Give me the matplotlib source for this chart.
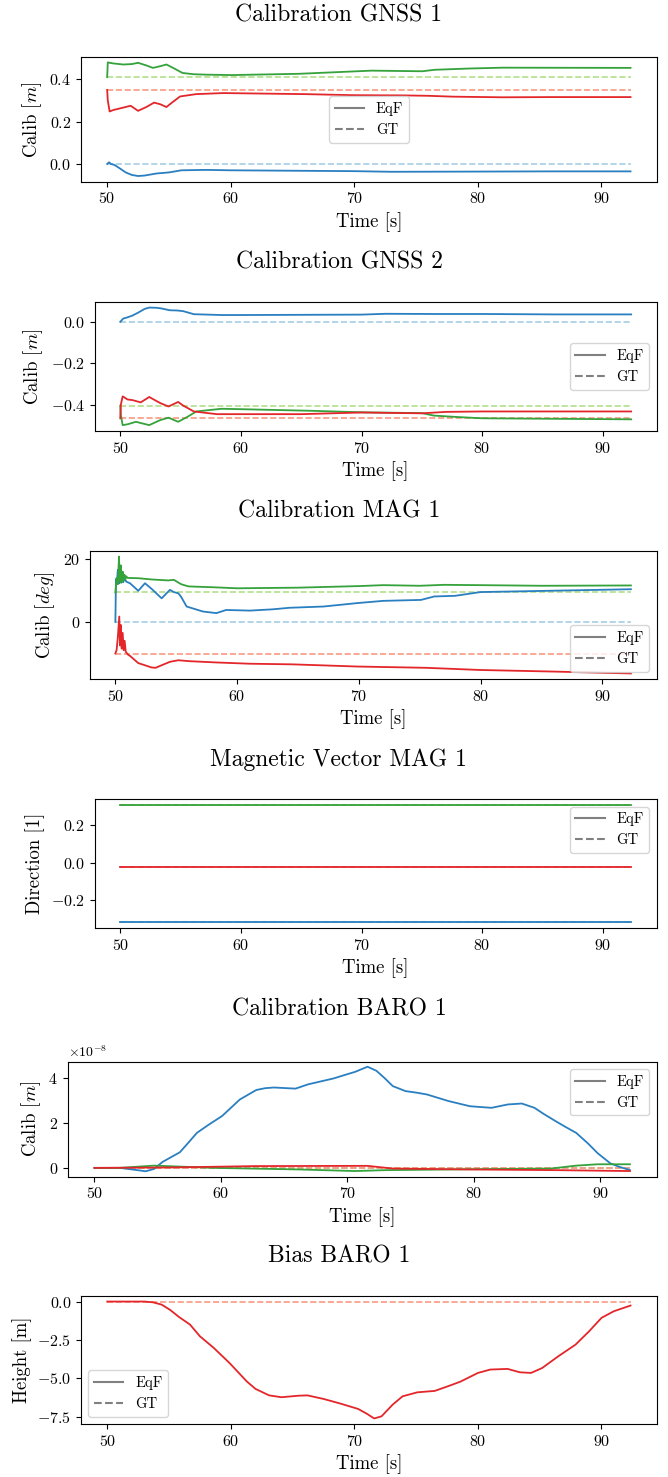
import numpy as np
import matplotlib
matplotlib.use("Agg")
import matplotlib.pyplot as plt
from matplotlib.lines import Line2D

plt.rcParams.update({
    "font.family": "serif",
    "font.serif": ["cmr10"],
    "mathtext.fontset": "cm",
    "axes.formatter.use_mathtext": True,
    "axes.unicode_minus": True,
})

# ---------------- data ----------------
T_START, T_END = 50.0, 92.35

# Panel 1: Calibration GNSS 1 [m]
gnss1_x_t = [50.0, 50.15, 50.3, 50.6, 51.0, 51.5, 52.0, 52.5, 53.0, 53.5, 54.0, 55.0, 56.0, 58.0, 60.0, 65.0, 70.0, 73.0, 80.0, 86.0, 92.35]
gnss1_x_v = [0.0, 0.008, 0.0, -0.005, -0.02, -0.04, -0.052, -0.057, -0.055, -0.05, -0.045, -0.04, -0.03, -0.028, -0.03, -0.032, -0.034, -0.037, -0.036, -0.035, -0.035]
gnss1_y_t = [50.0, 50.05, 50.2, 50.5, 51.3, 52.0, 52.5, 53.2, 53.7, 54.3, 54.8, 55.3, 56.1, 57.0, 58.0, 60.0, 65.5, 71.4, 75.5, 76.5, 79.3, 82.0, 92.35]
gnss1_y_v = [0.41, 0.48, 0.478, 0.475, 0.47, 0.472, 0.478, 0.465, 0.454, 0.462, 0.47, 0.455, 0.43, 0.424, 0.422, 0.42, 0.426, 0.441, 0.438, 0.445, 0.451, 0.455, 0.454]
gnss1_z_t = [50.0, 50.05, 50.2, 50.5, 51.0, 51.9, 52.5, 53.2, 53.8, 54.3, 54.8, 55.2, 55.9, 57.2, 59.4, 62.0, 66.0, 70.0, 74.0, 76.0, 78.0, 82.0, 86.0, 92.35]
gnss1_z_v = [0.35, 0.30, 0.248, 0.255, 0.262, 0.275, 0.251, 0.27, 0.29, 0.282, 0.269, 0.288, 0.319, 0.33, 0.335, 0.333, 0.33, 0.325, 0.324, 0.322, 0.318, 0.315, 0.316, 0.316]
gnss1_gt = [0.0, 0.41, 0.35]

# Panel 2: Calibration GNSS 2 [m]
gnss2_x_t = [50.0, 50.25, 50.5, 51.0, 51.5, 52.0, 52.4, 53.0, 53.4, 54.1, 54.7, 55.2, 56.1, 58.4, 60.0, 65.0, 70.0, 72.0, 76.0, 80.0, 86.0, 92.35]
gnss2_x_v = [0.0, 0.016, 0.02, 0.03, 0.045, 0.062, 0.069, 0.068, 0.065, 0.056, 0.055, 0.052, 0.037, 0.033, 0.033, 0.034, 0.035, 0.039, 0.038, 0.038, 0.036, 0.036]
gnss2_y_t = [50.0, 50.05, 50.2, 50.6, 51.3, 52.4, 53.3, 54.0, 54.8, 55.6, 56.3, 58.4, 60.0, 66.0, 70.0, 75.0, 76.0, 78.0, 80.0, 92.35]
gnss2_y_v = [-0.405, -0.45, -0.499, -0.495, -0.483, -0.499, -0.475, -0.463, -0.483, -0.458, -0.433, -0.420, -0.422, -0.43, -0.437, -0.441, -0.453, -0.46, -0.466, -0.471]
gnss2_z_t = [50.0, 50.05, 50.2, 50.6, 51.0, 51.7, 52.4, 53.3, 54.0, 54.8, 55.2, 56.1, 58.0, 60.0, 65.0, 70.0, 75.0, 77.0, 80.0, 92.35]
gnss2_z_v = [-0.466, -0.40, -0.36, -0.375, -0.378, -0.389, -0.363, -0.392, -0.409, -0.387, -0.404, -0.433, -0.446, -0.446, -0.446, -0.438, -0.442, -0.435, -0.433, -0.433]
gnss2_gt = [0.0, -0.405, -0.466]

# Panel 3: Calibration MAG 1 [deg]
mag_x_t = [50.0, 50.05, 50.12, 50.2, 50.28, 50.36, 50.45, 50.55, 50.65, 50.75, 50.9, 51.2, 51.88, 52.43, 52.98, 53.8, 54.48, 54.8, 55.17, 55.4, 55.85, 57.2, 58.3, 59.1, 61.05, 62.9, 64.3, 67.1, 69.9, 72.0, 75.1, 76.2, 77.9, 80.0, 84.2, 92.35]
mag_x_v = [0.0, 13.6, 12.0, 16.6, 12.2, 15.0, 12.5, 14.5, 12.6, 14.0, 12.8, 12.3, 9.9, 12.3, 10.5, 7.5, 10.2, 9.5, 9.1, 8.0, 4.9, 3.3, 2.8, 3.8, 3.6, 4.0, 4.5, 4.9, 6.0, 6.7, 7.0, 8.1, 8.3, 9.5, 9.8, 10.4]
mag_y_t = [50.0, 50.1, 50.2, 50.3, 50.35, 50.45, 50.5, 50.6, 50.65, 50.75, 50.8, 50.9, 51.0, 51.9, 53.0, 54.35, 54.8, 55.4, 56.0, 58.2, 60.0, 65.0, 70.0, 72.0, 75.0, 77.0, 80.0, 85.0, 92.35]
mag_y_v = [9.36, 14.0, 12.0, 20.8, 13.0, 18.0, 12.5, 16.0, 13.0, 15.0, 13.5, 14.5, 14.0, 13.9, 13.5, 13.2, 13.4, 12.0, 11.3, 11.0, 10.7, 10.9, 11.4, 11.7, 11.5, 11.8, 11.7, 11.5, 11.6]
mag_z_t = [50.0, 50.1, 50.2, 50.32, 50.38, 50.45, 50.52, 50.6, 50.68, 50.76, 50.85, 51.06, 51.2, 51.88, 52.98, 53.3, 54.48, 55.17, 56.1, 58.3, 61.0, 64.5, 69.9, 75.5, 80.0, 86.0, 92.35]
mag_z_v = [-10.0, -9.0, -5.0, 1.7, -7.5, -1.0, -8.5, -3.5, -9.0, -6.0, -9.5, -10.5, -10.8, -13.1, -14.5, -14.6, -12.7, -12.2, -12.5, -12.9, -13.3, -13.5, -14.2, -14.6, -15.3, -15.8, -16.4]
mag_gt = [0.0, 9.36, -10.2]

# Panel 4: Magnetic Vector MAG 1 [1]
magvec_t = [50.0, 92.35]
magvec_x_v = [-0.318, -0.318]
magvec_y_v = [0.307, 0.307]
magvec_z_v = [-0.024, -0.024]
magvec_gt = [-0.318, 0.307, -0.024]

# Panel 5: Calibration BARO 1 [m] (values in units of 1e-8)
baro_x_t = [50.0, 52.0, 53.4, 54.05, 54.7, 55.4, 56.75, 57.4, 58.1, 59.0, 60.1, 61.5, 62.8, 63.5, 64.2, 65.9, 66.9, 68.9, 70.0, 70.6, 71.6, 72.3, 72.9, 73.6, 74.6, 75.5, 76.3, 78.0, 79.7, 81.4, 82.7, 83.8, 84.8, 85.5, 86.5, 87.3, 88.1, 89.0, 89.8, 90.8, 91.5, 92.35]
baro_x_v = [0.0, 0.0, -0.1, -0.15, -0.05, 0.27, 0.69, 1.1, 1.55, 1.9, 2.3, 3.03, 3.45, 3.53, 3.56, 3.51, 3.7, 3.96, 4.15, 4.25, 4.48, 4.3, 4.0, 3.62, 3.4, 3.33, 3.25, 2.96, 2.73, 2.66, 2.81, 2.85, 2.66, 2.4, 2.06, 1.8, 1.55, 1.1, 0.65, 0.2, 0.05, -0.1]
baro_y_t = [50.0, 52.0, 54.7, 59.5, 66.2, 70.6, 73.0, 79.7, 86.1, 88.1, 89.8, 92.35]
baro_y_v = [0.0, 0.0, 0.1, 0.0, -0.07, -0.14, -0.1, -0.06, -0.03, 0.1, 0.16, 0.16]
baro_z_t = [50.0, 56.0, 59.5, 62.8, 71.6, 73.6, 79.7, 86.5, 92.35]
baro_z_v = [0.0, 0.02, 0.05, 0.08, 0.09, -0.03, -0.07, -0.1, -0.14]
baro_gt = [0.0, 0.0, 0.0]
BARO_SCALE = 1e-8

# Panel 6: Bias BARO 1 [m]
bias_t = [50.0, 53.0, 53.7, 54.4, 55.1, 55.8, 56.7, 57.5, 58.6, 59.9, 61.3, 62.0, 63.1, 64.1, 65.5, 66.2, 67.5, 68.9, 70.3, 71.0, 71.6, 72.2, 73.1, 73.9, 75.1, 76.5, 77.6, 78.6, 80.0, 81.0, 82.4, 83.4, 84.3, 85.2, 86.5, 87.9, 89.0, 90.0, 91.0, 92.35]
bias_v = [0.0, 0.0, -0.05, -0.2, -0.55, -1.0, -1.5, -2.26, -3.0, -4.0, -5.2, -5.68, -6.1, -6.22, -6.12, -6.1, -6.33, -6.64, -6.98, -7.29, -7.6, -7.46, -6.7, -6.16, -5.9, -5.81, -5.5, -5.2, -4.64, -4.42, -4.38, -4.6, -4.64, -4.32, -3.56, -2.8, -1.93, -1.06, -0.63, -0.26]
bias_gt = 0.0

# ---------------- style ----------------
EQF_COLORS = ["#2a7fc0", "#35a23c", "#e3262a"]
GT_COLORS = ["#a6cee3", "#b2df8a", "#fb9a82"]

W, H = 668, 1477
fig = plt.figure(figsize=(W / 100, H / 100), dpi=100)

def add_ax(l, t, r, b):
    return fig.add_axes([l / W, 1 - b / H, (r - l) / W, (b - t) / H])

def legend(ax, loc):
    handles = [Line2D([], [], color="gray", lw=1.5, ls="-"),
               Line2D([], [], color="gray", lw=1.5, ls="--")]
    ax.legend(handles, ["EqF", "GT"], loc=loc, fontsize=10.5)

def style(ax, title, title_y, ylabel):
    ax.set_xlabel("Time [s]", fontsize=13.5)
    ax.set_ylabel(ylabel, fontsize=13.5)
    ax.tick_params(labelsize=11.5)
    fig.text(339 / W, 1 - title_y / H, title, fontsize=17, ha="center", va="center")

def plot_series(ax, series, gts, scale=1.0):
    for g, c in zip(gts, GT_COLORS):
        ax.plot([T_START, T_END], [g * scale, g * scale], color=c, lw=1.2, ls="--")
    for (t, v), c in zip(series, EQF_COLORS):
        ax.plot(t, np.asarray(v) * scale, color=c, lw=1.3)

# Panel 1
ax1 = add_ax(81, 56.7, 656.7, 181.7)
plot_series(ax1, [(gnss1_x_t, gnss1_x_v), (gnss1_y_t, gnss1_y_v), (gnss1_z_t, gnss1_z_v)], gnss1_gt)
style(ax1, "Calibration GNSS 1", 15, r"Calib $[m]$")
legend(ax1, "center")

# Panel 2
ax2 = add_ax(94.7, 301.7, 656.7, 431)
plot_series(ax2, [(gnss2_x_t, gnss2_x_v), (gnss2_y_t, gnss2_y_v), (gnss2_z_t, gnss2_z_v)], gnss2_gt)
style(ax2, "Calibration GNSS 2", 262.7, r"Calib $[m]$")
legend(ax2, "center right")

# Panel 3
ax3 = add_ax(89.6, 550.7, 656.7, 679.3)
plot_series(ax3, [(mag_x_t, mag_x_v), (mag_y_t, mag_y_v), (mag_z_t, mag_z_v)], mag_gt)
style(ax3, "Calibration MAG 1", 511.7, r"Calib $[deg]$")
legend(ax3, "lower right")

# Panel 4
ax4 = add_ax(94.7, 799.3, 656.7, 928.3)
plot_series(ax4, [(magvec_t, magvec_x_v), (magvec_t, magvec_y_v), (magvec_t, magvec_z_v)], magvec_gt)
style(ax4, "Magnetic Vector MAG 1", 760, "Direction [1]")
legend(ax4, "upper right")

# Panel 5
ax5 = add_ax(67.7, 1061.5, 656.7, 1176.5)
plot_series(ax5, [(baro_x_t, baro_x_v), (baro_y_t, baro_y_v), (baro_z_t, baro_z_v)], baro_gt, scale=BARO_SCALE)
style(ax5, "Calibration BARO 1", 1009, r"Calib $[m]$")
legend(ax5, "upper right")

# Panel 6
ax6 = add_ax(81.1, 1295.7, 656.7, 1424.3)
ax6.plot([T_START, T_END], [bias_gt, bias_gt], color=GT_COLORS[2], lw=1.2, ls="--")
ax6.plot(bias_t, bias_v, color=EQF_COLORS[2], lw=1.3)
style(ax6, "Bias BARO 1", 1256.7, "Height [m]")
legend(ax6, "lower left")

for ax in fig.axes:
    ax.set_xticks([50, 60, 70, 80, 90])

fig.savefig("out.png", dpi=100)
